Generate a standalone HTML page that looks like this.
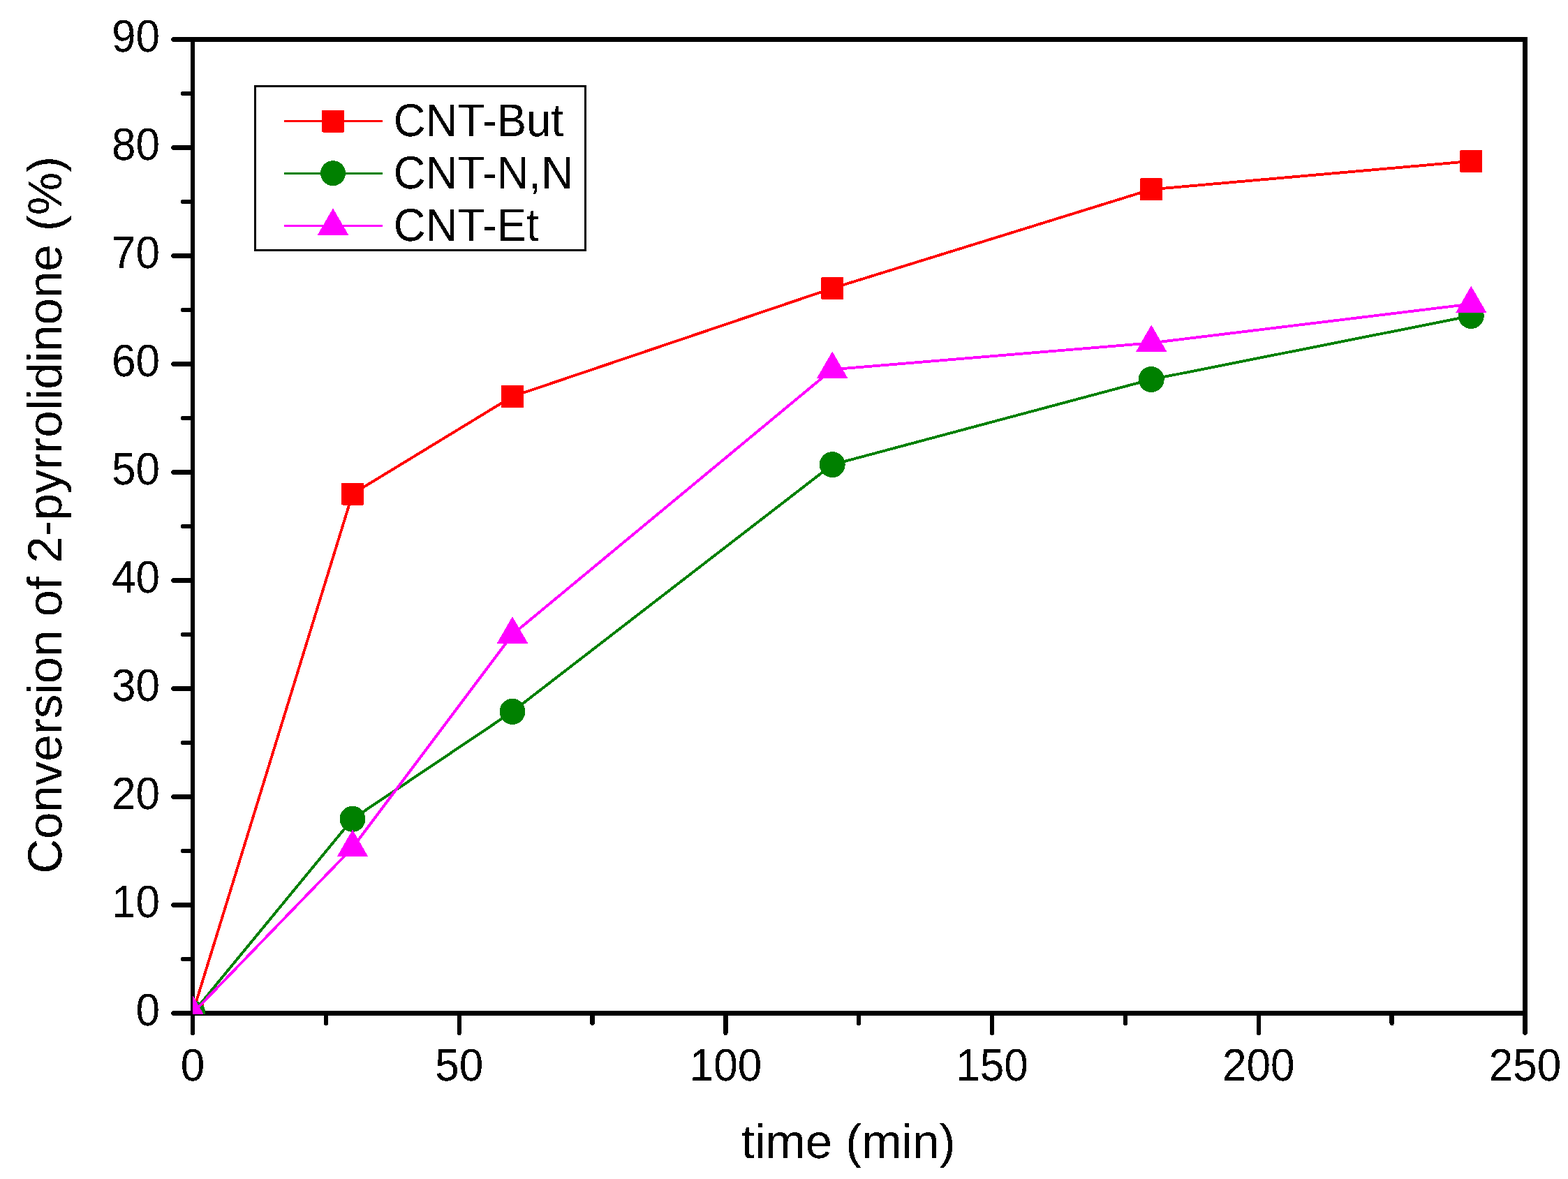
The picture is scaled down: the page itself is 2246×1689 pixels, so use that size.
<!DOCTYPE html>
<html><head><meta charset="utf-8"><title>Conversion of 2-pyrrolidinone vs time</title>
<style>html,body{margin:0;padding:0;background:#fff;width:2246px;height:1689px;overflow:hidden}svg{display:block}</style>
</head><body>
<svg width="2246" height="1689" viewBox="0 0 2246 1689" shape-rendering="crispEdges">
<rect width="2246" height="1689" fill="#fff"/>
<path d="M276 56.5 H2184.5 V1451.5 H276 Z" fill="none" stroke="#000" stroke-width="6.4" stroke-linejoin="miter"/>
<line x1="248.2" y1="1451.5" x2="276" y2="1451.5" stroke="#000" stroke-width="6.4" stroke-linecap="round"/>
<line x1="248.2" y1="1296.5" x2="276" y2="1296.5" stroke="#000" stroke-width="6.4" stroke-linecap="round"/>
<line x1="248.2" y1="1141.5" x2="276" y2="1141.5" stroke="#000" stroke-width="6.4" stroke-linecap="round"/>
<line x1="248.2" y1="986.5" x2="276" y2="986.5" stroke="#000" stroke-width="6.4" stroke-linecap="round"/>
<line x1="248.2" y1="831.5" x2="276" y2="831.5" stroke="#000" stroke-width="6.4" stroke-linecap="round"/>
<line x1="248.2" y1="676.5" x2="276" y2="676.5" stroke="#000" stroke-width="6.4" stroke-linecap="round"/>
<line x1="248.2" y1="521.5" x2="276" y2="521.5" stroke="#000" stroke-width="6.4" stroke-linecap="round"/>
<line x1="248.2" y1="366.5" x2="276" y2="366.5" stroke="#000" stroke-width="6.4" stroke-linecap="round"/>
<line x1="248.2" y1="211.5" x2="276" y2="211.5" stroke="#000" stroke-width="6.4" stroke-linecap="round"/>
<line x1="248.2" y1="56.5" x2="276" y2="56.5" stroke="#000" stroke-width="6.4" stroke-linecap="round"/>
<line x1="262.2" y1="1374" x2="276" y2="1374" stroke="#000" stroke-width="6.4" stroke-linecap="round"/>
<line x1="262.2" y1="1219" x2="276" y2="1219" stroke="#000" stroke-width="6.4" stroke-linecap="round"/>
<line x1="262.2" y1="1064" x2="276" y2="1064" stroke="#000" stroke-width="6.4" stroke-linecap="round"/>
<line x1="262.2" y1="909" x2="276" y2="909" stroke="#000" stroke-width="6.4" stroke-linecap="round"/>
<line x1="262.2" y1="754" x2="276" y2="754" stroke="#000" stroke-width="6.4" stroke-linecap="round"/>
<line x1="262.2" y1="599" x2="276" y2="599" stroke="#000" stroke-width="6.4" stroke-linecap="round"/>
<line x1="262.2" y1="444" x2="276" y2="444" stroke="#000" stroke-width="6.4" stroke-linecap="round"/>
<line x1="262.2" y1="289" x2="276" y2="289" stroke="#000" stroke-width="6.4" stroke-linecap="round"/>
<line x1="262.2" y1="134" x2="276" y2="134" stroke="#000" stroke-width="6.4" stroke-linecap="round"/>
<line x1="276" y1="1451.5" x2="276" y2="1479.8" stroke="#000" stroke-width="6.4" stroke-linecap="round"/>
<line x1="657.7" y1="1451.5" x2="657.7" y2="1479.8" stroke="#000" stroke-width="6.4" stroke-linecap="round"/>
<line x1="1039.4" y1="1451.5" x2="1039.4" y2="1479.8" stroke="#000" stroke-width="6.4" stroke-linecap="round"/>
<line x1="1421.1" y1="1451.5" x2="1421.1" y2="1479.8" stroke="#000" stroke-width="6.4" stroke-linecap="round"/>
<line x1="1802.8" y1="1451.5" x2="1802.8" y2="1479.8" stroke="#000" stroke-width="6.4" stroke-linecap="round"/>
<line x1="2184.5" y1="1451.5" x2="2184.5" y2="1479.8" stroke="#000" stroke-width="6.4" stroke-linecap="round"/>
<line x1="466.85" y1="1451.5" x2="466.85" y2="1465.8" stroke="#000" stroke-width="6.4" stroke-linecap="round"/>
<line x1="848.55" y1="1451.5" x2="848.55" y2="1465.8" stroke="#000" stroke-width="6.4" stroke-linecap="round"/>
<line x1="1230.25" y1="1451.5" x2="1230.25" y2="1465.8" stroke="#000" stroke-width="6.4" stroke-linecap="round"/>
<line x1="1611.95" y1="1451.5" x2="1611.95" y2="1465.8" stroke="#000" stroke-width="6.4" stroke-linecap="round"/>
<line x1="1993.65" y1="1451.5" x2="1993.65" y2="1465.8" stroke="#000" stroke-width="6.4" stroke-linecap="round"/>
<g style="font-family:'Liberation Sans',Arial,Helvetica,sans-serif;text-rendering:geometricPrecision;font-size:63px" fill="#000" filter="url(#bin)">
<text transform="translate(229,1469.2) scale(0.985,1.036)" text-anchor="end">0</text>
<text transform="translate(229,1314.2) scale(0.985,1.036)" text-anchor="end">10</text>
<text transform="translate(229,1159.2) scale(0.985,1.036)" text-anchor="end">20</text>
<text transform="translate(229,1004.2) scale(0.985,1.036)" text-anchor="end">30</text>
<text transform="translate(229,849.2) scale(0.985,1.036)" text-anchor="end">40</text>
<text transform="translate(229,694.2) scale(0.985,1.036)" text-anchor="end">50</text>
<text transform="translate(229,539.2) scale(0.985,1.036)" text-anchor="end">60</text>
<text transform="translate(229,384.2) scale(0.985,1.036)" text-anchor="end">70</text>
<text transform="translate(229,229.2) scale(0.985,1.036)" text-anchor="end">80</text>
<text transform="translate(229,74.2) scale(0.985,1.036)" text-anchor="end">90</text>
<text transform="translate(276,1547.9) scale(0.985,1.036)" text-anchor="middle">0</text>
<text transform="translate(657.7,1547.9) scale(0.985,1.036)" text-anchor="middle">50</text>
<text transform="translate(1039.4,1547.9) scale(0.985,1.036)" text-anchor="middle">100</text>
<text transform="translate(1421.1,1547.9) scale(0.985,1.036)" text-anchor="middle">150</text>
<text transform="translate(1802.8,1547.9) scale(0.985,1.036)" text-anchor="middle">200</text>
<text transform="translate(2184.5,1547.9) scale(0.985,1.036)" text-anchor="middle">250</text>
</g>
<text filter="url(#bin)" x="1061.8" y="1659" style="font-family:'Liberation Sans',Arial,Helvetica,sans-serif;text-rendering:geometricPrecision;font-size:69px" fill="#000">time (min)</text>
<text filter="url(#bin)" transform="translate(88,1251.6) rotate(-90)" x="0" y="0" style="font-family:'Liberation Sans',Arial,Helvetica,sans-serif;text-rendering:geometricPrecision;font-size:69px" fill="#000">Conversion of 2-pyrrolidinone (%)</text>
<defs><filter id="bin" color-interpolation-filters="sRGB"><feComponentTransfer><feFuncA type="discrete" tableValues="0 1"/></feComponentTransfer></filter><clipPath id="pa"><rect x="276" y="0" width="2300" height="1453"/></clipPath></defs>
<g clip-path="url(#pa)">
<polyline points="276,1451.5 505,707.5 734,568 1192.2,413 1649.2,271.33 2107.3,230.88" fill="none" stroke="#ff0000" stroke-width="3.9" stroke-linejoin="round"/>
<rect x="260" y="1435.5" width="32" height="32" rx="1.5" fill="#ff0000"/>
<rect x="489" y="691.5" width="32" height="32" rx="1.5" fill="#ff0000"/>
<rect x="718" y="552" width="32" height="32" rx="1.5" fill="#ff0000"/>
<rect x="1176.2" y="397" width="32" height="32" rx="1.5" fill="#ff0000"/>
<rect x="1633.2" y="255.33" width="32" height="32" rx="1.5" fill="#ff0000"/>
<rect x="2091.3" y="214.88" width="32" height="32" rx="1.5" fill="#ff0000"/>
<polyline points="276,1451.5 505,1173.28 734,1019.36 1192.2,665.65 1649.2,543.51 2107.3,452.52" fill="none" stroke="#008000" stroke-width="3.9" stroke-linejoin="round"/>
<circle cx="276" cy="1451.5" r="18.5" fill="#008000"/>
<circle cx="505" cy="1173.28" r="18.5" fill="#008000"/>
<circle cx="734" cy="1019.36" r="18.5" fill="#008000"/>
<circle cx="1192.2" cy="665.65" r="18.5" fill="#008000"/>
<circle cx="1649.2" cy="543.51" r="18.5" fill="#008000"/>
<circle cx="2107.3" cy="452.52" r="18.5" fill="#008000"/>
<polyline points="276,1451.5 505,1214.35 734,909 1192.2,529.25 1649.2,491.27 2107.3,435.48" fill="none" stroke="#ff00ff" stroke-width="3.9" stroke-linejoin="round"/>
<polygon points="276,1426.7 297.4,1463.7 254.6,1463.7" fill="#ff00ff" stroke="#ff00ff" stroke-width="1" stroke-linejoin="round"/>
<polygon points="505,1189.55 526.4,1226.55 483.6,1226.55" fill="#ff00ff" stroke="#ff00ff" stroke-width="1" stroke-linejoin="round"/>
<polygon points="734,884.2 755.4,921.2 712.6,921.2" fill="#ff00ff" stroke="#ff00ff" stroke-width="1" stroke-linejoin="round"/>
<polygon points="1192.2,504.45 1213.6,541.45 1170.8,541.45" fill="#ff00ff" stroke="#ff00ff" stroke-width="1" stroke-linejoin="round"/>
<polygon points="1649.2,466.47 1670.6,503.47 1627.8,503.47" fill="#ff00ff" stroke="#ff00ff" stroke-width="1" stroke-linejoin="round"/>
<polygon points="2107.3,410.68 2128.7,447.68 2085.9,447.68" fill="#ff00ff" stroke="#ff00ff" stroke-width="1" stroke-linejoin="round"/>
</g>
<rect x="365.5" y="123.5" width="473" height="234.8" fill="none" stroke="#000" stroke-width="3"/>
<line x1="407" y1="173.5" x2="548" y2="173.5" stroke="#ff0000" stroke-width="3"/>
<rect x="461" y="157.5" width="32" height="32" rx="1.5" fill="#ff0000"/>
<text filter="url(#bin)" transform="translate(563.8,194.9) scale(1.007,1.05)" style="font-family:'Liberation Sans',Arial,Helvetica,sans-serif;text-rendering:geometricPrecision;font-size:63px" fill="#000">CNT-But</text>
<line x1="407" y1="248.2" x2="548" y2="248.2" stroke="#008000" stroke-width="3"/>
<circle cx="477" cy="248.2" r="18" fill="#008000"/>
<text filter="url(#bin)" transform="translate(563.8,269.6) scale(1.007,1.05)" style="font-family:'Liberation Sans',Arial,Helvetica,sans-serif;text-rendering:geometricPrecision;font-size:63px" fill="#000">CNT-N,N</text>
<line x1="407" y1="323.4" x2="548" y2="323.4" stroke="#ff00ff" stroke-width="3"/>
<polygon points="477,299.3 498.6,336.5 455.4,336.5" fill="#ff00ff" stroke="#ff00ff" stroke-width="1" stroke-linejoin="round"/>
<text filter="url(#bin)" transform="translate(563.8,344.8) scale(1.007,1.05)" style="font-family:'Liberation Sans',Arial,Helvetica,sans-serif;text-rendering:geometricPrecision;font-size:63px" fill="#000">CNT-Et</text>
</svg>
</body></html>
